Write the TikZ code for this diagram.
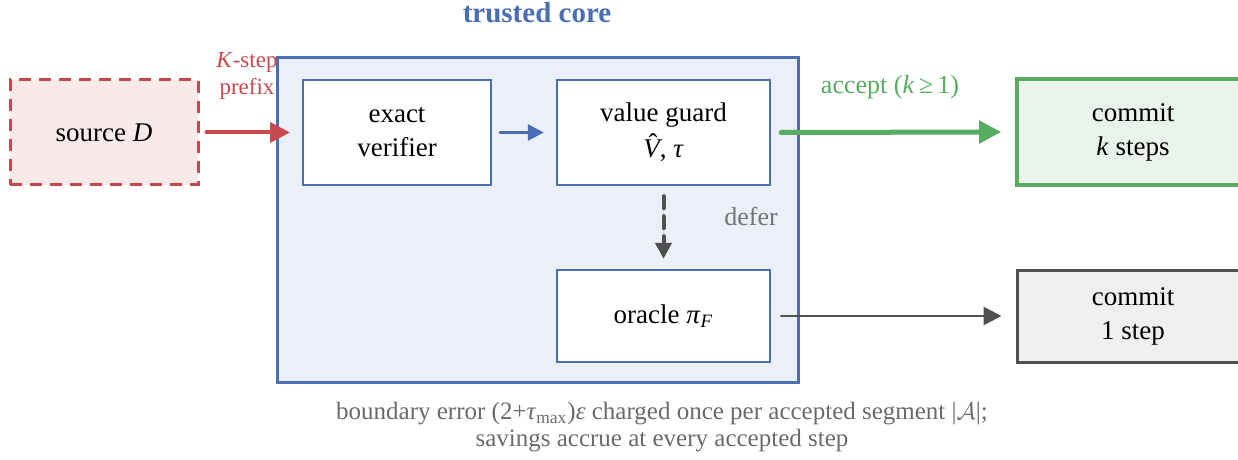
\documentclass[tikz,border=0pt]{standalone}
\usepackage{amsmath,amssymb}
\usepackage{fontspec}
\setmainfont{Liberation Serif}
\usepackage{xcolor}
\usepackage{tikz}
\usetikzlibrary{arrows.meta,positioning}

\definecolor{coreblue}{HTML}{4A6EB3}
\definecolor{corefill}{HTML}{EBF0F8}
\definecolor{srcred}{HTML}{C8484E}
\definecolor{srcfill}{HTML}{F9E9E9}
\definecolor{accgreen}{HTML}{58AC62}
\definecolor{accfill}{HTML}{E8F3EA}
\definecolor{darkgray}{HTML}{505050}
\definecolor{onefill}{HTML}{EFEFEF}

\newcommand{\hatvee}{\makebox[0pt][l]{\hspace{0.2em}\raisebox{0.18em}{ˆ}}\textit{V}}

\begin{document}
\begin{tikzpicture}[
    x=0.5pt, y=-0.5pt,
    font=\rmfamily\fontsize{13.5}{17}\selectfont,
    box/.style={rectangle, draw, align=center, inner sep=2pt},
    inner/.style={box, draw=coreblue, line width=1.2pt, fill=white},
    source/.style={box, draw=srcred, fill=srcfill, dashed, dash pattern=on 6pt off 4pt, line width=1.5pt, minimum width=94pt, minimum height=52.5pt},
    commitk/.style={box, draw=accgreen, fill=accfill, line width=1.8pt, minimum width=116pt, minimum height=53pt},
    commitone/.style={box, draw=darkgray, fill=onefill, line width=1.5pt, minimum width=116pt, minimum height=46pt},
    lbl/.style={font=\rmfamily\fontsize{13}{15}\selectfont, align=center},
    arrow/.style={-{Triangle[length=10pt, width=10pt]}, line cap=round}
]
    \useasboundingbox (0,0) rectangle (1238,460);

    % trusted core
    \node[draw=coreblue, fill=corefill, line width=1.5pt, minimum width=260.5pt, minimum height=162pt] (core) at (537.5,220) {};
    \node[font=\rmfamily\fontsize{14.5}{17}\selectfont\bfseries, text=coreblue] (coretitle) at (537,13) {trusted core};

    \node[inner, minimum width=94pt, minimum height=52.5pt] (verifier) at (397,132.5) {exact\\verifier};
    \node[inner, minimum width=106.5pt, minimum height=52.5pt] (guard) at (663.5,132.5) {value guard\\[1pt]\hatvee, \textit{τ}};
    \node[inner, minimum width=106.5pt, minimum height=46pt] (oracle) at (663.5,316) {oracle \textit{π}\textsubscript{\textit{F}}};

    \node[source] (source) at (104,132.5) {source \textit{D}};
    \node[commitk] (commitk) at (1133,132) {commit\\\textit{k} steps};
    \node[commitone] (commitone) at (1133,316) {commit\\1 step};

    \coordinate (entry) at (290,132.5);
    \draw[arrow, draw=srcred, fill=srcred, line width=2pt] (source.east) ++(7,0) -- (entry);
    \node[lbl, text=srcred, font=\rmfamily\fontsize{11.5}{13.5}\selectfont] (prefix) at (247,76) {\textit{K}-step\\prefix};

    \draw[arrow, draw=coreblue, fill=coreblue, line width=1.5pt, -{Triangle[length=8pt, width=8pt]}] ([xshift=4pt]verifier.east) -- ([xshift=-6pt]guard.east -| guard.west);
    \draw[arrow, draw=accgreen, fill=accgreen, line width=2.5pt, -{Triangle[length=11pt, width=11pt]}] ([xshift=5pt]guard.east) -- ([xshift=-7pt]commitk.west);
    \node[lbl, text=accgreen] (accept) at (890,87) {accept (\textit{k}\,≥\,1)};

    \draw[arrow, draw=darkgray, fill=darkgray, line width=2pt, dash pattern=on 6pt off 4pt, -{Triangle[length=8pt, width=8pt]}] ([yshift=-5pt]guard.south) -- ([yshift=5pt]oracle.north);
    \node[lbl, text=darkgray!80] (defer) at (751,216) {defer};

    \draw[arrow, draw=darkgray, fill=darkgray, line width=1.3pt, -{Triangle[length=9pt, width=9pt]}] ([xshift=5pt]oracle.east) -- ([xshift=-7pt]commitone.west);

    \node[lbl, text=darkgray!85, font=\rmfamily\fontsize{12.5}{13.5}\selectfont] (caption) at (662,427) {boundary error (2+\textit{τ}\textsubscript{max})\textit{ε} charged once per accepted segment |$\mathcal{A}$|;\\savings accrue at every accepted step};
\end{tikzpicture}
\end{document}
